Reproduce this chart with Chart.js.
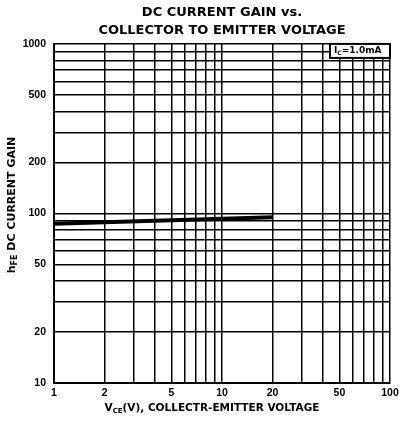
<!DOCTYPE html>
<html>
<head>
<meta charset="utf-8">
<script src="https://cdn.jsdelivr.net/npm/chart.js@4"></script>
<style>
  html, body { margin: 0; padding: 0; background: #fff; }
</style>
</head>
<body>
<canvas id="gainChart" width="403" height="427"></canvas>
<script>
// data (Ic = 1.0mA)
const vce = [1, 20];
const hfe = [87, 95];

// grid lines and labelled ticks
const xGrid = [1, 2, 3, 4, 5, 6, 7, 8, 9, 10, 20, 30, 40, 50, 60, 70, 80, 90, 100];
const yGrid = [10, 20, 30, 40, 50, 60, 70, 80, 90, 100, 200, 300, 400, 500, 600, 700, 800, 900, 1000];
const xLabels = [1, 2, 5, 10, 20, 50, 100];
const yLabels = [10, 20, 50, 100, 200, 500, 1000];

const FONT = '"Liberation Sans", Arial, sans-serif';
const WIDE = '"DejaVu Sans", sans-serif';

// draws text pieces, some as subscripts
function drawParts(ctx, parts, x, y, size, align) {
  const subSize = Math.round(size * 0.7);
  let total = 0;
  parts.forEach(p => {
    ctx.font = 'bold ' + (p[1] ? subSize : size) + 'px ' + WIDE;
    total += ctx.measureText(p[0]).width;
  });
  let cx = align === 'center' ? x - total / 2 : x;
  ctx.textAlign = 'left';
  ctx.textBaseline = 'middle';
  parts.forEach(p => {
    ctx.font = 'bold ' + (p[1] ? subSize : size) + 'px ' + WIDE;
    ctx.fillText(p[0], cx, p[1] ? y + size * 0.3 : y);
    cx += ctx.measureText(p[0]).width;
  });
}

const labelsPlugin = {
  id: 'labels',
  afterDraw(chart) {
    const ctx = chart.ctx;
    const a = chart.chartArea;
    ctx.save();
    ctx.fillStyle = '#000';

    // x axis title
    drawParts(ctx, [['V', false], ['CE', true], ['(V), COLLECTR-EMITTER VOLTAGE', false]],
      212, 408, 10.5, 'center');

    // y axis title
    ctx.save();
    ctx.translate(12, 205);
    ctx.rotate(-Math.PI / 2);
    drawParts(ctx, [['h', false], ['FE', true], [' DC CURRENT GAIN', false]], 0, 0, 11, 'center');
    ctx.restore();

    // condition box
    const bx = a.right - 60, by = a.top, bw = 60, bh = 14;
    ctx.fillStyle = '#fff';
    ctx.fillRect(bx, by, bw, bh);
    ctx.strokeStyle = '#000';
    ctx.lineWidth = 2;
    ctx.strokeRect(bx, by, bw, bh);
    ctx.fillStyle = '#000';
    drawParts(ctx, [['I', false], ['C', true], ['=1.0mA', false]], bx + 4, by + 7, 9, 'left');
    ctx.restore();
  }
};

const ctx = document.getElementById('gainChart').getContext('2d');

const gainChart = new Chart(ctx, {
  type: 'line',
  data: {
    datasets: [{
      data: vce.map((v, i) => ({ x: v, y: hfe[i] })),
      borderColor: '#000',
      borderWidth: 4,
      pointRadius: 0,
      fill: false,
      tension: 0
    }]
  },
  options: {
    responsive: false,
    animation: false,
    layout: { padding: { left: 0, right: 13, top: 0, bottom: 0 } },
    plugins: {
      legend: { display: false },
      tooltip: { enabled: false },
      title: {
        display: true,
        fullSize: false,
        text: ['DC CURRENT GAIN vs.', 'COLLECTOR TO EMITTER VOLTAGE'],
        color: '#000',
        font: { family: WIDE, size: 13, weight: 'bold', lineHeight: 1.42 },
        padding: { top: 3, bottom: 4 }
      }
    },
    scales: {
      x: {
        type: 'logarithmic',
        min: 1,
        max: 100,
        afterBuildTicks: s => { s.ticks = xGrid.map(v => ({ value: v })); },
        afterFit: s => { s.height = 44; },
        ticks: {
          autoSkip: false,
          maxRotation: 0,
          padding: 4,
          color: '#000',
          font: { family: FONT, size: 10.5, weight: 'bold' },
          callback: v => xLabels.includes(v) ? String(v) : ''
        },
        grid: { color: '#000', lineWidth: 1.5, drawTicks: false },
        border: { color: '#000', width: 2 }
      },
      y: {
        type: 'logarithmic',
        min: 10,
        max: 1000,
        afterBuildTicks: s => { s.ticks = yGrid.map(v => ({ value: v })); },
        afterFit: s => { s.width = 54; },
        ticks: {
          autoSkip: false,
          padding: 8,
          color: '#000',
          font: { family: FONT, size: 10.5, weight: 'bold' },
          callback: v => yLabels.includes(v) ? String(v) : ''
        },
        grid: { color: '#000', lineWidth: 1.5, drawTicks: false },
        border: { color: '#000', width: 2 }
      }
    }
  },
  plugins: [labelsPlugin]
});
</script>
</body>
</html>
